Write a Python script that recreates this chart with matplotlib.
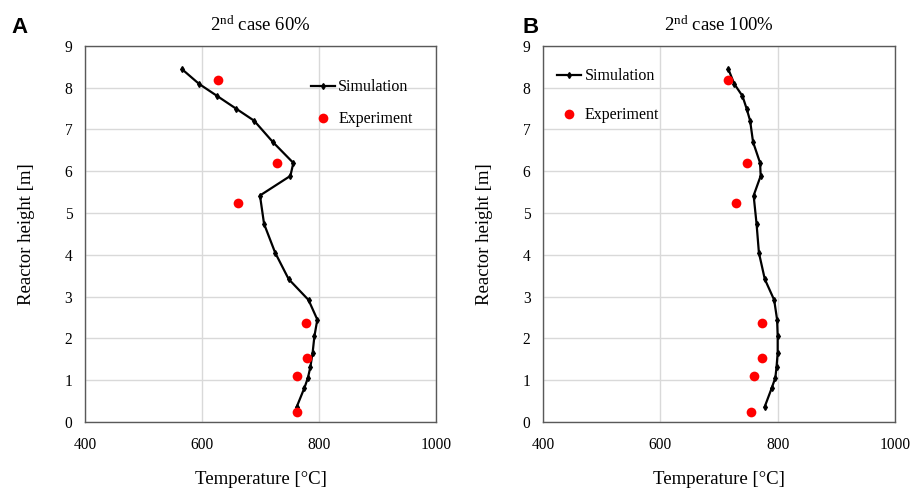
import matplotlib
matplotlib.use("Agg")
from matplotlib import pyplot as plt

plt.rcParams['font.family'] = 'Liberation Serif'
plt.rcParams['mathtext.fontset'] = 'custom'
plt.rcParams['mathtext.rm'] = 'Liberation Serif'
plt.rcParams['mathtext.it'] = 'Liberation Serif:italic'

# simulation profile heights (m)
sim_height = [8.44, 8.09, 7.80, 7.50, 7.21, 6.70, 6.20, 5.89, 5.42, 4.74,
              4.05, 3.42, 2.92, 2.45, 2.05, 1.66, 1.31, 1.06, 0.82, 0.37]
sim_60 = [566, 595, 626, 658, 689, 721, 756, 751, 699, 706,
          725, 748, 782, 797, 792, 789, 785, 781, 775, 762]
sim_100 = [716, 726, 740, 747, 753, 758, 770, 771, 759, 764,
           768, 778, 794, 799, 800, 800, 798, 796, 790, 778]

# experiment (thermocouple) heights (m)
exp_height = [8.18, 6.21, 5.24, 2.36, 1.54, 1.10, 0.23]
exp_60 = [627, 728, 661, 778, 779, 763, 763]
exp_100 = [716, 747, 729, 774, 773, 759, 754]

fig = plt.figure(figsize=(9.12, 4.91), dpi=100)
ax1 = fig.add_axes([0.0932, 0.1405, 0.385, 0.766])
ax2 = fig.add_axes([0.5954, 0.1405, 0.386, 0.766])

panels = [
    (ax1, sim_60, exp_60, r"2$^{\mathrm{nd}}$ case 60%", 1.0, (0.603, 0.949)),
    (ax2, sim_100, exp_100, r"2$^{\mathrm{nd}}$ case 100%", 1.45, (0.0, 0.979)),
]

for ax, sim, exp, title, lspace, anchor in panels:
    ax.plot(sim, sim_height, color='black', lw=1.6, marker='d', ms=3,
            label='Simulation', zorder=3)
    ax.plot(exp, exp_height, 'o', color='#ff0000', ms=7, mec='none',
            label='Experiment', zorder=4)
    ax.set_xlim(400, 1000)
    ax.set_ylim(0, 9)
    ax.set_xticks([400, 600, 800, 1000])
    ax.set_yticks(range(0, 10))
    ax.grid(True, color='#d9d9d9', lw=1)
    ax.set_axisbelow(True)
    for s in ax.spines.values():
        s.set_color('#595959')
        s.set_linewidth(1)
    ax.tick_params(length=0, labelsize=11.2)
    ax.tick_params(axis='x', pad=11)
    ax.tick_params(axis='y', pad=9)
    ax.set_xlabel("Temperature [°C]", fontsize=13.5, labelpad=13)
    ax.set_ylabel("Reactor height [m]", fontsize=13.5, labelpad=21)
    ax.set_title(title, fontsize=13.5, pad=11)
    ax.legend(loc='upper left', bbox_to_anchor=anchor, frameon=False,
              fontsize=11.5, numpoints=1, handlelength=1.5,
              handletextpad=0.2, labelspacing=lspace)

fig.text(0.013, 0.933, "A", fontsize=16, fontweight='bold',
         family='Liberation Sans')
fig.text(0.573, 0.933, "B", fontsize=16, fontweight='bold',
         family='Liberation Sans')

fig.savefig("out.png", dpi=100)
